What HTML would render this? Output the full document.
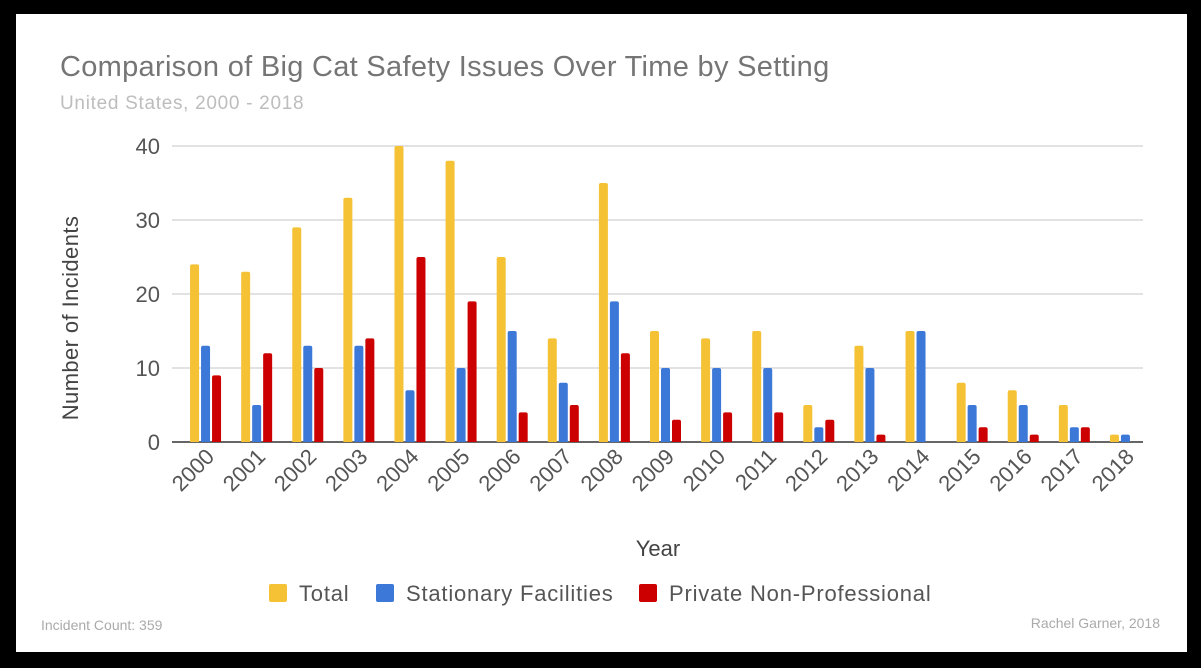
<!DOCTYPE html>
<html><head><meta charset="utf-8"><style>
body{margin:0;background:#000;width:1201px;height:668px;overflow:hidden;font-family:"Liberation Sans",sans-serif}
#panel{position:absolute;left:16px;top:14px;width:1171px;height:638px;background:#fff}
svg{position:absolute;left:0;top:0}
</style></head><body>
<div id="panel"></div>
<svg id="chart" width="1201" height="668">
<text x="60" y="76" font-size="29" letter-spacing="0.3" fill="#757575">Comparison of Big Cat Safety Issues Over Time by Setting</text>
<text x="60" y="109" font-size="19" letter-spacing="0.7" fill="#bdbdbd">United States, 2000 - 2018</text>
<text transform="translate(78,318) rotate(-90)" text-anchor="middle" font-size="22" letter-spacing="0.4" fill="#444">Number of Incidents</text>
<text x="658" y="556" text-anchor="middle" font-size="22" fill="#444">Year</text>
<g>
<rect x="269" y="584" width="18" height="18" rx="2" fill="#f4c234"/>
<text x="299" y="601" font-size="22" letter-spacing="0.8" fill="#555">Total</text>
<rect x="376" y="584" width="18" height="18" rx="2" fill="#3b78d8"/>
<text x="406" y="601" font-size="22" letter-spacing="0.8" fill="#555">Stationary Facilities</text>
<rect x="639" y="584" width="18" height="18" rx="2" fill="#cc0000"/>
<text x="669" y="601" font-size="22" letter-spacing="0.8" fill="#555">Private Non-Professional</text>
</g>
<text x="41" y="630" font-size="14" fill="#aaa">Incident Count: 359</text>
<text x="1160" y="628" text-anchor="end" font-size="14" fill="#aaa">Rachel Garner, 2018</text>
<g id="grid"></g><g id="bars"></g><g id="labels"></g>
</svg>
<script>
const years=["2000","2001","2002","2003","2004","2005","2006","2007","2008","2009","2010","2011","2012","2013","2014","2015","2016","2017","2018"];
const total=[24,23,29,33,40,38,25,14,35,15,14,15,5,13,15,8,7,5,1];
const stationary=[13,5,13,13,7,10,15,8,19,10,10,10,2,10,15,5,5,2,1];
const privateNP=[9,12,10,14,25,19,4,5,12,3,4,4,3,1,0,2,1,2,0];
const yTicks=[0,10,20,30,40];
const NS="http://www.w3.org/2000/svg";
const y0=442,yTop=146,yMax=40,x0=172,x1=1143;
const y=v=>y0-(v/yMax)*(y0-yTop);
const step=(x1-x0)/years.length;
const cx=i=>x0+step*(i+0.5)+8;
function mk(tag,attrs,parent){const e=document.createElementNS(NS,tag);for(const k in attrs)e.setAttribute(k,attrs[k]);parent.appendChild(e);return e;}
const grid=document.getElementById('grid'),bars=document.getElementById('bars'),labels=document.getElementById('labels');
yTicks.forEach(t=>{
 if(t>0){const l=mk('line',{x1:x0,x2:x1,y1:y(t),y2:y(t),stroke:'#d9d9d9','stroke-width':1.5},grid);
 
 }
 const tx=mk('text',{x:160,y:y(t)+8,'text-anchor':'end','font-size':22,fill:'#555'},grid);
 tx.textContent=t;
 
 
});
const series=[[total,'#f4c234','total'],[stationary,'#3b78d8','stationary'],[privateNP,'#cc0000','private']];
years.forEach((yr,i)=>{
 series.forEach((s,j)=>{
  const v=s[0][i];if(v<=0)return;
  const bx=cx(i)+(j-1)*11-4.5;
  const r=mk('path',{d:`M${bx},${y0} V${y(v)+2} q0,-2 2,-2 h5 q2,0 2,2 V${y0} Z`,fill:s[1]},bars);
  
  
 });
 const t=mk('text',{transform:`translate(${cx(i)+10},${458}) rotate(-45)`,'text-anchor':'end','font-size':22,fill:'#555'},labels);
 t.textContent=yr;
 
 
});
const ax=mk('line',{x1:x0,x2:x1,y1:y0,y2:y0,stroke:'#333','stroke-width':1.5},grid);


</script>
</body></html>
